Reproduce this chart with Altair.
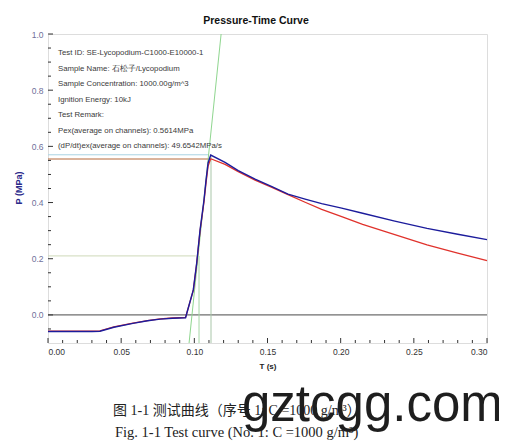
import altair as alt
import pandas as pd

# ---- data ----
time_blue = [0.000, 0.010, 0.020, 0.030, 0.0355, 0.045, 0.058, 0.068, 0.0766, 0.085, 0.094,
             0.0993, 0.1016, 0.1039, 0.1066, 0.1080, 0.1094, 0.1112, 0.121, 0.130, 0.1415,
             0.153, 0.164, 0.1757, 0.187, 0.2007, 0.215, 0.237, 0.259, 0.280, 0.300]
p_blue = [-0.059, -0.059, -0.059, -0.059, -0.058, -0.044, -0.030, -0.021, -0.015, -0.012, -0.010,
          0.089, 0.184, 0.302, 0.409, 0.480, 0.541, 0.569, 0.543, 0.514, 0.483,
          0.457, 0.430, 0.412, 0.396, 0.380, 0.362, 0.334, 0.308, 0.287, 0.268]

time_red = [0.000, 0.010, 0.020, 0.030, 0.0355, 0.045, 0.058, 0.068, 0.0766, 0.085, 0.094,
            0.0993, 0.1016, 0.1039, 0.1066, 0.1080, 0.1094, 0.1112, 0.121, 0.130, 0.1415,
            0.153, 0.164, 0.1757, 0.187, 0.2007, 0.215, 0.237, 0.259, 0.280, 0.300]
p_red = [-0.058, -0.058, -0.058, -0.058, -0.057, -0.043, -0.029, -0.020, -0.014, -0.011, -0.009,
         0.087, 0.182, 0.298, 0.402, 0.470, 0.530, 0.556, 0.536, 0.510, 0.480,
         0.454, 0.428, 0.401, 0.376, 0.350, 0.322, 0.286, 0.249, 0.220, 0.193]

# reference segments: t start, t end, P start, P end, colour
seg_t1 = [0.000, 0.000, 0.000, 0.000, 0.1032, 0.1114, 0.0964]
seg_t2 = [0.300, 0.110, 0.110, 0.101, 0.1032, 0.1114, 0.1183]
seg_p1 = [0.000, 0.570, 0.555, 0.210, -0.100, -0.100, -0.100]
seg_p2 = [0.000, 0.570, 0.555, 0.210, 0.210, 0.570, 1.000]
seg_col = ["#4a4a4a", "#a9d3e3", "#b5683a", "#cfd9b8", "#a6d6a6", "#a9c6a9", "#8fd68f"]

y_labels = [0.0, 0.2, 0.4, 0.6, 0.8, 1.0]
x_labels = [0.00, 0.05, 0.10, 0.15, 0.20, 0.25, 0.30]
y_minor = [-0.05, 0.05, 0.1, 0.15, 0.25, 0.3, 0.35, 0.45, 0.5, 0.55, 0.65, 0.7, 0.75, 0.85, 0.9, 0.95]
x_minor = [0.01, 0.02, 0.03, 0.04, 0.06, 0.07, 0.08, 0.09, 0.11, 0.12, 0.13, 0.14,
           0.16, 0.17, 0.18, 0.19, 0.21, 0.22, 0.23, 0.24, 0.26, 0.27, 0.28, 0.29]

info_lines = [
    "Test ID: SE-Lycopodium-C1000-E10000-1",
    "Sample  Name: 石松子/Lycopodium",
    "Sample Concentration: 1000.00g/m^3",
    "Ignition Energy: 10kJ",
    "Test Remark:",
    "Pex(average on channels): 0.5614MPa",
    "(dP/dt)ex(average on channels): 49.6542MPa/s",
]
title_text = "Pressure-Time Curve"
x_title = "T (s)"
y_title = "P (MPa)"
caption_cn = "图 1-1 测试曲线（序号 1: C =1000 g/m³）"
caption_en = "Fig. 1-1 Test curve (No. 1: C =1000 g/m³)"
watermark = "gztcgg.com"

W, H = 439, 309
SANS = "Liberation Sans"

xs = alt.Scale(domain=[0, 0.30], nice=False, zero=False)
ys = alt.Scale(domain=[-0.1, 1.0], nice=False, zero=False)

segs = pd.DataFrame({"t1": seg_t1, "t2": seg_t2, "p1": seg_p1, "p2": seg_p2, "c": seg_col})

base_axes = alt.Chart(pd.DataFrame({"t": [0.0], "p": [0.0]})).mark_point(opacity=0).encode(
    x=alt.X("t:Q", scale=xs, title=None,
            axis=alt.Axis(values=x_labels, format=".2f", ticks=False, domain=False, grid=False,
                          labelFontSize=8.5, labelColor="#333333", labelFont=SANS, labelPadding=4)),
    y=alt.Y("p:Q", scale=ys, title=None,
            axis=alt.Axis(values=y_labels, format=".1f", ticks=False, domain=False, grid=False,
                          labelFontSize=8.5, labelColor="#6f6f9a", labelFont=SANS, labelPadding=5)),
)

seg_layer = alt.Chart(segs).mark_rule(strokeWidth=1).encode(
    x=alt.X("t1:Q", scale=xs), x2="t2:Q",
    y=alt.Y("p1:Q", scale=ys), y2="p2:Q",
    color=alt.Color("c:N", scale=None),
)

red_line = alt.Chart(pd.DataFrame({"t": time_red, "p": p_red})).mark_line(
    color="#e0322c", strokeWidth=1.3).encode(
    x=alt.X("t:Q", scale=xs), y=alt.Y("p:Q", scale=ys))
blue_line = alt.Chart(pd.DataFrame({"t": time_blue, "p": p_blue})).mark_line(
    color="#1c1c9c", strokeWidth=1.4).encode(
    x=alt.X("t:Q", scale=xs), y=alt.Y("p:Q", scale=ys))

# inward ticks
y_major_t = alt.Chart(pd.DataFrame({"p": y_labels})).mark_rule(color="#333", strokeWidth=1).encode(
    y=alt.Y("p:Q", scale=ys), x=alt.value(0), x2=alt.value(5))
y_minor_t = alt.Chart(pd.DataFrame({"p": y_minor})).mark_rule(color="#333", strokeWidth=1).encode(
    y=alt.Y("p:Q", scale=ys), x=alt.value(0), x2=alt.value(3))
x_major_t = alt.Chart(pd.DataFrame({"t": x_labels})).mark_rule(color="#333", strokeWidth=1).encode(
    x=alt.X("t:Q", scale=xs), y=alt.value(H), y2=alt.value(H - 5))
x_minor_t = alt.Chart(pd.DataFrame({"t": x_minor})).mark_rule(color="#333", strokeWidth=1).encode(
    x=alt.X("t:Q", scale=xs), y=alt.value(H), y2=alt.value(H - 3))


def txt(s, x, y, **kw):
    return alt.Chart(pd.DataFrame({"s": [s]})).mark_text(**kw).encode(
        x=alt.value(x), y=alt.value(y), text="s:N")


info_y = [19, 34.5, 50, 65.5, 81, 96.5, 112]
info_layers = [txt(s, 10, yy, align="left", baseline="middle", fontSize=7.8, font=SANS, color="#3a3a3a")
               for s, yy in zip(info_lines, info_y)]

title = txt(title_text, 208, -13, fontSize=10.5, fontWeight="bold", font=SANS, color="#111")
ytitle = txt(y_title, -29, 154, fontSize=9, fontWeight="bold", font=SANS, color="#2a2a8a", angle=270)
xtitle = txt(x_title, 220, 333, fontSize=8, fontWeight="bold", font=SANS, color="#222")
cap_cn = txt(caption_cn, 65, 377, align="left", fontSize=14,
             font="Liberation Serif, Noto Sans CJK SC", color="#222")
cap_en = txt(caption_en, 67, 399, align="left", fontSize=14.5, font="Liberation Serif", color="#222")
wm = txt(watermark, 194, 387, align="left", baseline="alphabetic", fontSize=51, font=SANS, color="#1e1e1e")

chart = alt.layer(
    base_axes, seg_layer, y_major_t, y_minor_t, x_major_t, x_minor_t,
    red_line, blue_line, *info_layers, title, ytitle, xtitle, cap_cn, cap_en, wm,
).properties(
    width=W, height=H,
    autosize=alt.AutoSizeParams(type="none"),
    padding={"left": 40, "top": 26, "right": 12, "bottom": 99},
).configure_view(stroke="black", strokeWidth=1.5).configure(background="white")

chart.save("out.html", embed_options={"renderer": "svg", "actions": False})
